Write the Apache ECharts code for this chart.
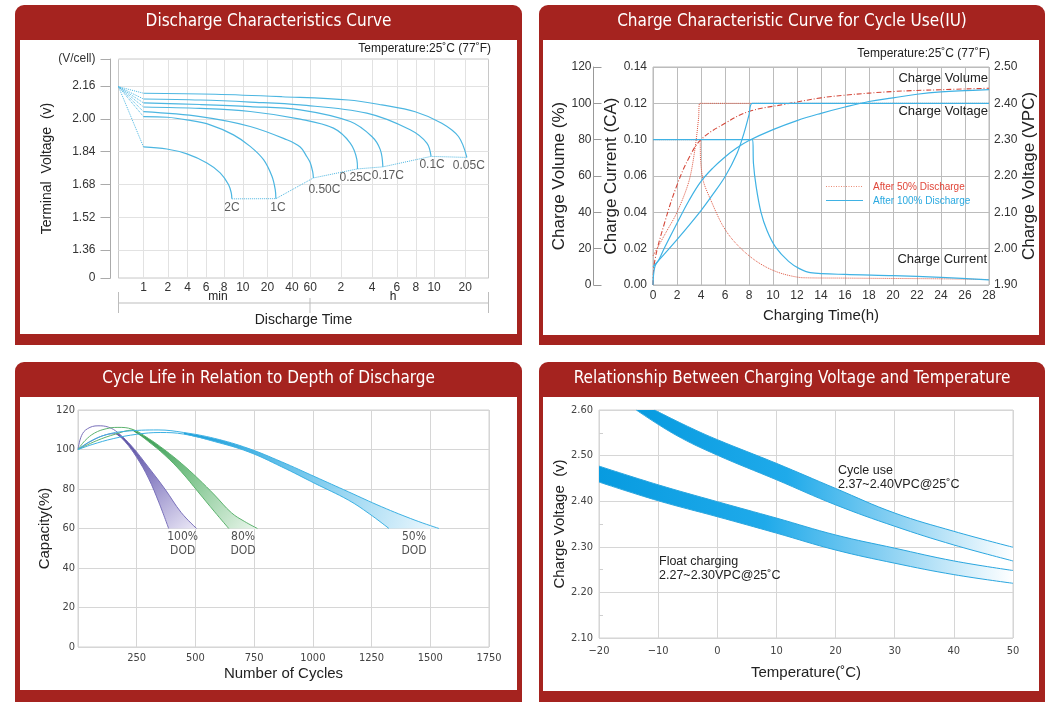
<!DOCTYPE html>
<html><head><meta charset="utf-8">
<script src="https://cdn.jsdelivr.net/npm/echarts@6/dist/echarts.min.js"></script>
<style>html,body{margin:0;padding:0;background:#fff}#c{width:1060px;height:706px}</style>
</head><body><div id="c"></div><script>
// ================= DATA =================
// Panel 1 – discharge characteristics (time in minutes, terminal voltage V/cell)
const dischargeTickMinutes = [1,2,4,6,8,10,20,40,60,120,240,360,480,600,1200];
const dischargeTickLabels  = ['1','2','4','6','8','10','20','40','60','2','4','6','8','10','20'];
const dischargeTickPos     = [6.76,13.35,18.65,23.7,28.57,33.6,40.27,46.86,51.8,60.1,68.57,75.24,80.38,85.3,93.7];
const voltageTicks = [1.36,1.52,1.68,1.84,2.00,2.16];
const dischargeRates = ['2C','1C','0.50C','0.25C','0.17C','0.1C','0.05C'];
const dischargeStart = [0, 2.157];
const curve2C   = [[1,1.863],[1.94,1.853],[3.92,1.829],[6.07,1.785],[7.5,1.737],[8.42,1.68],[8.7,1.64],[8.77,1.61]];
const curve1C   = [[1,2.011],[1.97,2.008],[3.9,1.995],[6.39,1.971],[8.94,1.922],[12.3,1.866],[17.9,1.801],[22.7,1.72],[24.9,1.656],[25.4,1.611]];
const curve050C = [[1,2.035],[5.27,2.011],[12.3,1.963],[34.7,1.898],[48.1,1.863],[54.9,1.821],[60,1.787],[63.5,1.743],[64.6,1.712]];
const curve025C = [[1,2.058],[5.27,2.051],[12.3,2.036],[48.1,1.999],[101.5,1.955],[147.6,1.882],[171,1.801],[173.3,1.756]];
const curve017C = [[1,2.078],[5.27,2.07],[12.3,2.06],[48.1,2.044],[147.6,1.987],[238,1.914],[274,1.85],[286,1.766]];
const curve01C  = [[1,2.097],[5.27,2.092],[12.3,2.082],[48.1,2.068],[213,2.028],[440,1.947],[549,1.882],[578,1.817]];
const curve005C = [[1,2.125],[6.93,2.12],[30.1,2.108],[141.6,2.092],[281.5,2.068],[475,2.035],[712,1.979],[1033,1.914],[1246,1.812]];

// Panel 2 – charge characteristics (hours; volume %, voltage VPC, current CA)
const volume100  = [[0,0],[0.15,10],[0.5,14],[1,21],[2,34],[3,46.5],[4,57],[5,64.5],[6,70.5],[7,75.5],[8,79.5],[10,85.5],[12,90.5],[14,94.5],[16,98],[18,101],[20,103],[22,105],[24,106.3],[26,107],[28,107.5]];
const voltage100 = [[0,1.95],[0.4,1.965],[2,2.025],[4,2.105],[5,2.15],[6,2.198],[7,2.262],[7.6,2.32],[8,2.368],[8.26,2.40],[10,2.40],[28,2.40]];
const current100 = [[0,0.10],[8.3,0.10],[8.37,0.074],[8.6,0.054],[9.0,0.04],[9.5,0.03],[10.2,0.021],[11.3,0.013],[12.2,0.009],[13.1,0.0068],[16,0.0058],[20,0.0052],[24,0.0042],[28,0.0028]];
const volume50   = [[0,0],[0.14,13],[1,35],[2,55],[3,70],[4,80],[6,89],[8,95.5],[11,99.5],[14,103],[16,104.5],[20,106.5],[24,107.5],[28,108.3]];
const voltage50  = [[0,1.98],[1,2.04],[2,2.10],[3,2.186],[3.5,2.275],[3.8,2.36],[3.9,2.40],[6,2.40],[28,2.40]];
const current50  = [[0,0.10],[3.9,0.10],[3.97,0.076],[4.2,0.057],[4.8,0.047],[5.7,0.034],[6.5,0.026],[7.5,0.019],[8.5,0.0136],[9.5,0.0096],[10.5,0.0068],[11.5,0.005],[12.5,0.004],[16,0.0038],[20,0.0036],[24,0.0034],[28,0.003]];
const currentAxisLabels = ['0.00','0.02','0.04','0.06','0.10','0.12','0.14'];

// Panel 3 – cycle life vs depth of discharge (cycles, capacity %)
const dodNames = ['100%','80%','50%'];
const dod100Outer = [[0,100],[15,107],[40,110.5],[85,112],[130,111.3],[170,108.5],[230,101.5],[300,91],[370,80],[440,68],[505,60]];
const dod100Inner = [[0,100],[60,104.5],[120,107.5],[160,108],[200,104],[250,96],[300,85.5],[345,73],[386,60]];
const dod80Outer  = [[0,100],[30,104.5],[70,108.3],[120,110.5],[170,111.2],[230,110.3],[300,105.6],[370,99.7],[440,93],[511,85.3],[582,76.9],[653,68],[710,63.5],[764,60]];
const dod80Inner  = [[0,100],[80,104.5],[160,107.8],[230,109.8],[300,104],[369,97.2],[440,88.7],[511,78.6],[582,68.4],[642,60]];
const dod50Outer  = [[0,100],[50,104],[120,107.5],[200,109.2],[341,109.9],[450,108.6],[582,105.6],[724,100.6],[866,93.8],[1009,86.2],[1151,78.6],[1293,71],[1435,64.2],[1537,60]];
const dod50Inner  = [[0,100],[60,102.5],[150,105.5],[250,107.7],[350,108.6],[450,107.8],[582,104],[724,98.9],[866,91.3],[1009,82.8],[1151,74.4],[1240,67.5],[1324,60]];
const dodBandStart = [160, 230, 450];

// Panel 4 – charge voltage vs temperature (°C, V)
const cycleUseUpper = [[-10.6,2.60],[-5,2.564],[0,2.535],[10,2.483],[20,2.428],[30,2.374],[40,2.334],[50,2.299]];
const cycleUseLower = [[-13.7,2.60],[-7,2.545],[0,2.501],[10,2.447],[20,2.392],[30,2.345],[40,2.304],[50,2.269]];
const floatUpper    = [[-20,2.477],[-10,2.436],[0,2.399],[10,2.363],[20,2.326],[30,2.297],[40,2.269],[50,2.248]];
const floatLower    = [[-20,2.442],[-10,2.401],[0,2.366],[10,2.33],[20,2.293],[30,2.264],[40,2.239],[50,2.22]];

// ================= HELPERS =================
const RED = '#a5231f', BLUE = '#4cb6e1', REDLINE = '#df5640', CBLUE = '#3fb2e4';
const FONT = '"Liberation Sans", Arial, sans-serif';
const NARROW = '"Liberation Sans Narrow", "DejaVu Sans Condensed", "Liberation Sans", Arial, sans-serif';
const near = (a, b) => Math.abs(a - b) < 1e-6;

// discharge-time axis: piecewise logarithmic between labelled ticks
function timeToAxis(t) {
  const T = [0].concat(dischargeTickMinutes), P = [0].concat(dischargeTickPos);
  if (t <= T[1]) return P[1] * t / T[1];
  for (let i = 1; i < T.length - 1; i++) {
    if (t <= T[i + 1]) return P[i] + (P[i + 1] - P[i]) * Math.log(t / T[i]) / Math.log(T[i + 1] / T[i]);
  }
  const n = T.length - 1;
  return P[n] + (P[n] - P[n - 1]) * Math.log(t / T[n]) / Math.log(T[n] / T[n - 1]);
}
// current axis of the reference skips 0.08 between 0.06 and 0.10
function currentToAxis(c) {
  if (c <= 0.06) return c;
  if (c <= 0.10) return 0.06 + (c - 0.06) / 2;
  return c - 0.02;
}
function spline(pts, n) {
  const out = [];
  for (let i = 0; i < pts.length - 1; i++) {
    const p0 = pts[Math.max(i - 1, 0)], p1 = pts[i], p2 = pts[i + 1], p3 = pts[Math.min(i + 2, pts.length - 1)];
    for (let k = 0; k < n; k++) {
      const t = k / n, t2 = t * t, t3 = t2 * t;
      const f = j => 0.5 * (2 * p1[j] + (-p0[j] + p2[j]) * t + (2 * p0[j] - 5 * p1[j] + 4 * p2[j] - p3[j]) * t2 + (-p0[j] + 3 * p1[j] - 3 * p2[j] + p3[j]) * t3);
      out.push([f(0), f(1)]);
    }
  }
  out.push(pts[pts.length - 1]);
  return out;
}
function bandSeries(xi, yi, upper, lower, fill) {
  return {
    type: 'custom', xAxisIndex: xi, yAxisIndex: yi, silent: true, clip: true, z: 1, data: [0],
    renderItem: (params, api) => {
      const up = spline(upper.map(p => api.coord(p)), 10);
      const lo = spline(lower.map(p => api.coord(p)), 10).reverse();
      return { type: 'polygon', shape: { points: up.concat(lo) }, style: { fill: fill, stroke: null } };
    }
  };
}
function grad(x2, y2, stops) {
  return { type: 'linear', x: 0, y: 0, x2: x2, y2: y2, colorStops: stops.map(s => ({ offset: s[0], color: s[1] })) };
}
function lineS(xi, yi, data, color, width, type, extra) {
  return Object.assign({ type: 'line', xAxisIndex: xi, yAxisIndex: yi, data: data, symbol: 'none', silent: true,
    smooth: 0.35, lineStyle: { color: color, width: width, type: type || 'solid' } }, extra || {});
}

// ================= SERIES =================
const series = [];
const dischargeCurves = [curve2C, curve1C, curve050C, curve025C, curve017C, curve01C, curve005C];
const axisPt = p => [timeToAxis(p[0]), p[1]];
dischargeCurves.forEach((c, i) => series.push(lineS(0, 0, c.map(axisPt), BLUE, 1.2, 'solid', { name: dischargeRates[i] })));
series.push({
  type: 'lines', coordinateSystem: 'cartesian2d', xAxisIndex: 0, yAxisIndex: 0, silent: true,
  lineStyle: { color: BLUE, width: 1, type: 'dotted', opacity: 1 },
  data: dischargeCurves.map(c => ({ coords: [axisPt(dischargeStart), axisPt(c[0])] }))
});
series.push(lineS(0, 0, dischargeCurves.map(c => axisPt(c[c.length - 1])), BLUE, 1, 'dotted', { smooth: false }));
const rateLabelOffset = { '2C': [0, 0], '1C': [2, 1], '0.50C': [11, 3], '0.25C': [-2, 0], '0.17C': [5, 0], '0.1C': [1, 0], '0.05C': [2, 0] };
series.push({
  type: 'scatter', xAxisIndex: 0, yAxisIndex: 0, silent: true, symbolSize: 1, itemStyle: { color: 'rgba(0,0,0,0)' },
  label: { show: true, position: 'bottom', distance: 2, color: '#333', fontSize: 12, fontFamily: FONT },
  data: dischargeCurves.map((c, i) => ({ value: axisPt(c[c.length - 1]),
    label: { formatter: dischargeRates[i], offset: rateLabelOffset[dischargeRates[i]] } }))
});

// Panel 2 — red (50%) first, under the blue
const cur = arr => arr.map(p => [p[0], currentToAxis(p[1])]);
series.push(lineS(1, 1, cur(current50), REDLINE, 1, 'dotted', { smooth: 0.3 }));
series.push(lineS(1, 3, voltage50, REDLINE, 1, 'dotted', { smooth: 0.3 }));
series.push(lineS(1, 2, volume50, '#d4483a', 1.1, [5, 2, 1, 2], { smooth: 0.4 }));
series.push(lineS(1, 1, cur(current100), CBLUE, 1.2, 'solid', { smooth: 0.3 }));
series.push(lineS(1, 3, voltage100, CBLUE, 1.2, 'solid', { smooth: 0.3 }));
series.push(lineS(1, 2, volume100, CBLUE, 1.2, 'solid', { smooth: 0.4 }));

// Panel 3 — bands
const dodSets = [
  [dod100Outer, dod100Inner, '#7a71bb', [[0, '#4c4297'], [0.45, '#8b82c4'], [1, '#ece9f7']]],
  [dod80Outer, dod80Inner, '#5db36f', [[0, '#2a9449'], [0.45, '#7cc38b'], [1, '#eaf6ec']]],
  [dod50Outer, dod50Inner, '#3db1e3', [[0, '#159bd9'], [0.45, '#72c6ec'], [1, '#f0f9fe']]]
];
dodSets.forEach((s, i) => {
  const st = dodBandStart[i];
  series.push(bandSeries(2, 4, s[0].filter(p => p[0] >= st), s[1].filter(p => p[0] >= st), grad(1, 1, s[3])));
});
dodSets.forEach(s => {
  series.push(lineS(2, 4, s[0], s[2], 1, 'solid', { smooth: 0.4, z: 3 }));
  series.push(lineS(2, 4, s[1], s[2], 1, 'solid', { smooth: 0.4, z: 3 }));
});
series.push({
  type: 'scatter', xAxisIndex: 2, yAxisIndex: 4, silent: true, symbolSize: 1, itemStyle: { color: 'rgba(0,0,0,0)' },
  label: { show: true, position: 'bottom', distance: 1, color: '#222', fontSize: 12, lineHeight: 14, fontFamily: NARROW, align: 'center' },
  data: dodSets.map((s, i) => ({ value: [(s[0][s[0].length - 1][0] + s[1][s[1].length - 1][0]) / 2, 60],
    label: { formatter: dodNames[i] + '\nDOD' } }))
});

// Panel 4 — bands
const tempStops = [[0, '#079be0'], [0.4, '#1faaea'], [0.68, '#86cff2'], [1, '#ffffff']];
series.push(bandSeries(3, 5, cycleUseUpper, cycleUseLower, grad(1, 0, tempStops)));
series.push(bandSeries(3, 5, floatUpper, floatLower, grad(1, 0, tempStops)));
[cycleUseUpper, cycleUseLower, floatUpper, floatLower].forEach(d =>
  series.push(lineS(3, 5, d, '#2aa6df', 1, 'solid', { smooth: 0.4, z: 3 })));

// ================= GRAPHIC DECOR =================
const panels = [[15, 5, 507, 340, 20, 40, 497, 294], [539, 5, 506, 340, 543, 40, 496, 295],
                [15, 362, 507, 340, 20, 397, 497, 293], [539, 362, 506, 340, 543, 397, 496, 294]];
const titles = ['Discharge Characteristics Curve', 'Charge Characteristic Curve for Cycle Use(IU)',
                'Cycle Life in Relation to Depth of Discharge', 'Relationship Between Charging Voltage and Temperature'];
const g = [];
panels.forEach((p, i) => {
  g.push({ type: 'rect', z: -10, shape: { x: p[0], y: p[1], width: p[2], height: p[3], r: [9, 9, 0, 0] }, style: { fill: RED } });
  g.push({ type: 'rect', z: -9, shape: { x: p[4], y: p[5], width: p[6], height: p[7] }, style: { fill: '#fff' } });
  g.push({ type: 'text', z: 50, x: p[0] + p[2] / 2, y: p[1] + 17, style: { text: titles[i], fill: '#fff',
    fontSize: 17, fontFamily: NARROW, align: 'center', verticalAlign: 'middle' } });
});
const txt = (x, y, t, o) => g.push(Object.assign({ type: 'text', z: 50, x: x, y: y,
  style: Object.assign({ text: t, fill: '#222', fontSize: 12, fontFamily: FONT, verticalAlign: 'middle' }, o || {}) }));
const seg = (x1, y1, x2, y2, stroke, dash, w) => g.push({ type: 'line', z: 50, shape: { x1: x1, y1: y1, x2: x2, y2: y2 },
  style: { stroke: stroke, lineWidth: w || 1, lineDash: dash || null } });
txt(491, 49, 'Temperature:25˚C (77˚F)', { align: 'right' });
txt(218, 297, 'min', { align: 'center' });
txt(393, 297, 'h', { align: 'center' });
seg(118.5, 303, 488.5, 303, '#bdbdbd'); seg(118.5, 292, 118.5, 313, '#bdbdbd');
seg(310, 298, 310, 313, '#bdbdbd'); seg(488.5, 292, 488.5, 313, '#bdbdbd');
txt(990, 54, 'Temperature:25˚C (77˚F)', { align: 'right' });
txt(988, 78, 'Charge Volume', { align: 'right', fontSize: 13 });
txt(988, 111, 'Charge Voltage', { align: 'right', fontSize: 13 });
txt(987, 259, 'Charge Current', { align: 'right', fontSize: 13 });
// legend of panel 2
seg(826, 186.5, 863, 186.5, '#ea8a74', [1, 1.5]);
txt(873, 187, 'After 50% Discharge', { fontSize: 10, fill: '#e0473a' });
seg(826, 200.5, 863, 200.5, CBLUE, null, 1.2);
txt(873, 201, 'After 100% Discharge', { fontSize: 10, fill: '#2aa9e0' });
txt(838, 471, 'Cycle use', { fontSize: 12.5 });
txt(838, 484.5, '2.37~2.40VPC@25˚C', { fontSize: 12.5 });
txt(659, 562, 'Float charging', { fontSize: 12.5 });
txt(659, 576, '2.27~2.30VPC@25˚C', { fontSize: 12.5 });

// ================= AXES =================
const lab = (o) => Object.assign({ color: '#333', fontSize: 12, fontFamily: FONT }, o);
const nm = (s) => ({ fontSize: s, color: '#222', fontFamily: FONT });
const yCustom = [1.224].concat(voltageTicks, [2.292]);
const option = {
  animation: false,
  backgroundColor: '#fff',
  textStyle: { fontFamily: FONT },
  graphic: { elements: g },
  grid: [
    { left: 118.5, top: 59, width: 370, height: 219, show: true, borderColor: '#c8c8c8', borderWidth: 1 },
    { left: 653, top: 67, width: 336, height: 218, show: true, borderColor: '#b8b8b8', borderWidth: 1 },
    { left: 78, top: 410, width: 411, height: 237, show: true, borderColor: '#d2d2d2', borderWidth: 1 },
    { left: 599, top: 410, width: 414, height: 228, show: true, borderColor: '#d2d2d2', borderWidth: 1 }
  ],
  xAxis: [
    { type: 'value', gridIndex: 0, min: 0, max: 100, axisLine: { show: false, onZero: false },
      axisTick: { show: false, customValues: dischargeTickPos },
      axisLabel: lab({ customValues: dischargeTickPos, margin: 4,
        formatter: v => { const i = dischargeTickPos.findIndex(p => near(p, v)); return i >= 0 ? dischargeTickLabels[i] : ''; } }),
      splitLine: { lineStyle: { color: '#e2e2e2' } },
      name: 'Discharge Time', nameLocation: 'middle', nameGap: 35, nameTextStyle: nm(14) },
    { type: 'value', gridIndex: 1, min: 0, max: 28, interval: 2, axisLine: { show: false, onZero: false }, axisTick: { show: false },
      axisLabel: lab({ margin: 5 }), splitLine: { lineStyle: { color: '#bcbcbc' } },
      name: 'Charging Time(h)', nameLocation: 'middle', nameGap: 23, nameTextStyle: nm(15) },
    { type: 'value', gridIndex: 2, min: 0, max: 1750, interval: 250, axisLine: { show: false, onZero: false }, axisTick: { show: false },
      axisLabel: lab({ margin: 6, fontSize: 11, fontFamily: NARROW, color: '#444', formatter: v => v === 0 ? '' : String(v) }),
      splitLine: { lineStyle: { color: '#d6d6d6' } },
      name: 'Number of Cycles', nameLocation: 'middle', nameGap: 19, nameTextStyle: nm(15) },
    { type: 'value', gridIndex: 3, min: -20, max: 50, interval: 10, axisLine: { show: false, onZero: false }, axisTick: { show: false },
      axisLabel: lab({ margin: 8, fontSize: 11, fontFamily: NARROW, color: '#444', formatter: v => String(v).replace('-', '−') }),
      splitLine: { lineStyle: { color: '#d6d6d6' } },
      name: 'Temperature(˚C)', nameLocation: 'middle', nameGap: 27, nameTextStyle: nm(15) }
  ],
  yAxis: [
    { type: 'value', gridIndex: 0, min: 1.224, max: 2.292, offset: 8,
      axisLine: { show: true, onZero: false, lineStyle: { color: '#aaa' } },
      axisTick: { show: true, length: 10, customValues: yCustom, lineStyle: { color: '#aaa' } },
      axisLabel: lab({ customValues: yCustom, margin: 15,
        formatter: v => near(v, 1.224) ? '0' : (near(v, 2.292) ? '(V/cell)' : v.toFixed(2)) }),
      splitLine: { lineStyle: { color: '#e2e2e2' } },
      name: 'Terminal  Voltage  (v)', nameLocation: 'middle', nameGap: 51, nameTextStyle: nm(14) },
    { type: 'value', gridIndex: 1, position: 'left', min: 0, max: 0.12, interval: 0.02,
      axisLine: { show: false, onZero: false }, axisTick: { show: false },
      axisLabel: lab({ margin: 6, formatter: v => currentAxisLabels[Math.round(v / 0.02)] }),
      splitLine: { lineStyle: { color: '#bcbcbc' } },
      name: 'Charge Current (CA)', nameLocation: 'middle', nameGap: 32, nameTextStyle: nm(17) },
    { type: 'value', gridIndex: 1, position: 'left', offset: 59.5, min: 0, max: 120, interval: 20,
      axisLine: { show: true, onZero: false, lineStyle: { color: '#999' } },
      axisTick: { show: true, inside: true, length: 8, lineStyle: { color: '#999' } },
      axisLabel: lab({ margin: 2 }), splitLine: { show: false },
      name: 'Charge Volume (%)', nameLocation: 'middle', nameGap: 21, nameTextStyle: nm(17) },
    { type: 'value', gridIndex: 1, position: 'right', min: 1.9, max: 2.5, interval: 0.1,
      axisLine: { show: false, onZero: false }, axisTick: { show: false },
      axisLabel: lab({ margin: 5, formatter: v => v.toFixed(2) }), splitLine: { show: false },
      name: 'Charge Voltage (VPC)', nameLocation: 'middle', nameGap: 26, nameTextStyle: nm(17) },
    { type: 'value', gridIndex: 2, min: 0, max: 120, interval: 20, axisLine: { show: false, onZero: false }, axisTick: { show: false },
      axisLabel: lab({ margin: 3, fontSize: 11, fontFamily: NARROW, color: '#444' }),
      splitLine: { lineStyle: { color: '#d6d6d6' } },
      name: 'Capacity(%)', nameLocation: 'middle', nameGap: 23, nameTextStyle: nm(15) },
    { type: 'value', gridIndex: 3, min: 2.1, max: 2.6, interval: 0.1, axisLine: { show: false, onZero: false },
      axisTick: { show: false, inside: true },
      minorTick: { show: true, splitNumber: 2, length: 4, lineStyle: { color: '#cfcfcf' } },
      axisLabel: lab({ margin: 6, fontSize: 11, fontFamily: NARROW, color: '#444', formatter: v => v.toFixed(2) }),
      splitLine: { lineStyle: { color: '#d6d6d6' } },
      name: 'Charge Voltage  (v)', nameLocation: 'middle', nameGap: 26, nameTextStyle: nm(15) }
  ],
  series: series
};
const chart = echarts.init(document.getElementById('c'), null, { renderer: 'canvas' });
chart.setOption(option);
</script></body></html>
